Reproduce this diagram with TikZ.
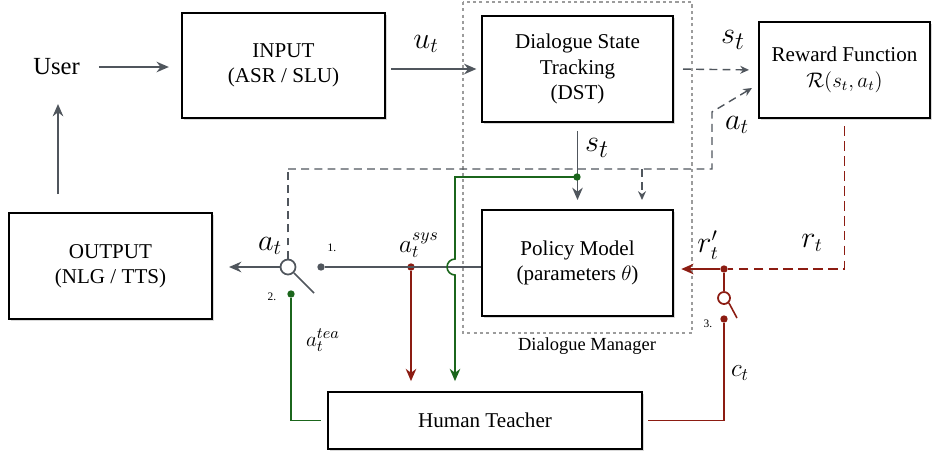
\documentclass[tikz,border=0pt]{standalone}
\usepackage{fontspec}
\setmainfont{Liberation Serif}
\usetikzlibrary{shadows,arrows.meta}

\definecolor{linegray}{HTML}{50565D}
\definecolor{dotgray}{HTML}{9C9C9C}
\definecolor{teachred}{HTML}{8C1C12}
\definecolor{teachgreen}{HTML}{1B661C}

\newcommand{\diagfont}{\fontsize{12}{14.5}\selectfont}
\newcommand{\labsize}[1]{\fontsize{#1}{#1}\selectfont}

\begin{document}
\begin{tikzpicture}[x=0.02cm,y=-0.02cm,>={Stealth[length=7pt,width=6pt]},
  main node/.style={rectangle,draw,line width=1.4pt,fill=white,align=center,font=\diagfont,
    drop shadow={shadow xshift=1.4pt,shadow yshift=-1.4pt,opacity=0.3}},
  flow/.style={->,draw=linegray,line width=1.1pt},
  feed/.style={draw=linegray,line width=0.8pt,dash pattern=on 4.5pt off 3pt,
    >={Stealth[length=5pt,width=4.5pt]}},
  redline/.style={draw=teachred,line width=0.9pt},
  reddash/.style={draw=teachred,line width=0.9pt,dash pattern=on 5.5pt off 3pt},
  greenline/.style={draw=teachgreen,line width=0.9pt},
  switch/.style={circle,draw,line width=1pt,fill=white,inner sep=0pt,minimum size=0.3cm},
  dot/.style={circle,inner sep=0pt,minimum size=4.2pt},
  lab/.style={inner sep=0pt},
  num/.style={font=\fontsize{6.5}{7}\selectfont,inner sep=0pt}]

  \useasboundingbox (0,0) rectangle (936,454);

  % dialogue manager frame
  \draw[dotgray,line width=0.9pt,dash pattern=on 1.8pt off 1.8pt] (463,2) rectangle (692,333);
  \node[font=\fontsize{10.5}{12}\selectfont] (dm) at (587,346) {Dialogue Manager};

  \node[] (user) at (56.5,67) {\fontsize{14}{17}\selectfont User};
  \node[main node,minimum width=4.06cm,minimum height=2.1cm] (input) at (283.5,65.5) {INPUT\\(ASR / SLU)};
  \node[main node,minimum width=3.82cm,minimum height=2.12cm] (dst) at (577.5,69) {Dialogue State\\Tracking\\(DST)};
  \node[main node,minimum width=3.82cm,minimum height=2.12cm] (policy) at (577.5,263) {Policy Model\\(parameters $\theta$)};
  \node[main node,minimum width=3.42cm,minimum height=1.92cm] (reward) at (844.5,70) {Reward Function\\$\mathcal{R}(s_t,a_t)$};
  \node[main node,minimum width=4.06cm,minimum height=2.12cm] (output) at (110.5,266) {OUTPUT\\(NLG / TTS)};
  \node[main node,minimum width=6.28cm,minimum height=1.14cm] (teacher) at (485,420.5) {Human Teacher};

  % switches and joints
  \coordinate (ubot) at (58,104);
  \coordinate (atl) at (288,169);
  \coordinate (atr) at (712,169);
  \coordinate (atup) at (712,112);
  \coordinate (rin) at (752,88);
  \coordinate (atb) at (642,169);
  \coordinate (stj) at (577,177);
  \coordinate (hop) at (455,177);
  \coordinate (hoptop) at (455,259);
  \coordinate (lev1) at (314,293);
  \coordinate (lev3) at (737,318);

  \node[dot,fill=linegray] (p1) at (321,267) {};
  \node[dot,fill=teachgreen] (p2) at (291,294) {};
  \node[dot,fill=teachred] (asys) at (411,267) {};
  \node[dot,fill=teachred] (rj) at (724,269) {};
  \node[dot,fill=teachred] (p3) at (724,319) {};

  % main flow
  \draw[flow,shorten <=7.4pt,shorten >=6.8pt] (user.east) -- (user.east -| input.west);
  \draw[flow,shorten <=3pt,shorten >=2.5pt] (input.east |- dst.west) -- (dst.west);
  \draw[flow,shorten <=4.5pt,shorten >=5pt] (dst.south) -- (policy.north);
  \draw[flow,shorten <=10pt] (ubot |- output.north) -- (ubot);
  \draw[linegray,line width=1.1pt] (p1) -- (p1 -| policy.west);

  % dashed feedback
  \draw[feed,->,shorten <=5pt,shorten >=5pt] (dst.east) -- (reward.west);
  \draw[feed,->] (atl) -- (atr) -- (atup) -- (rin);
  \draw[feed,->,shorten >=5pt] (atb) -- (atb |- policy.north);

  % teacher loop
  \draw[redline,->,shorten >=5.5pt] (asys) -- (asys |- teacher.north);
  \draw[greenline,->,shorten >=5.5pt] (stj) -- (hop) -- (hoptop)
    arc[start angle=90,end angle=270,radius=0.16cm] -- (hop |- teacher.north);
  \node[dot,fill=teachgreen] (stdot) at (stj) {};
  \draw[greenline,shorten >=3.5pt] (p2) -- (p2 |- teacher.west) -- (teacher.west);
  \draw[reddash,shorten <=4pt] (reward.south) -- (reward.south |- rj) -- (rj);
  \draw[redline,->,line width=1.1pt,shorten >=4pt] (rj) -- (rj -| policy.east);
  \node[switch,draw=teachred,minimum size=0.24cm] (sw3) at (724,298) {};
  \draw[redline] (rj) -- (sw3.north);
  \draw[redline] (sw3.south east) -- (lev3);
  \draw[redline,shorten >=3pt] (p3) -- (p3 |- teacher.east) -- (teacher.east);

  % output switch
  \node[switch,draw=linegray] (sw) at (288,267) {};
  \draw[feed] (sw.north) -- (atl);
  \draw[flow,shorten >=9pt] (sw.west) -- (sw.west -| output.east);
  \draw[linegray,line width=1pt] (sw.south east) -- (lev1);

  % labels
  \node[lab,font=\labsize{18.5}] (ut) at (426,44) {$u_t$};
  \node[lab,font=\labsize{19}] (st1) at (733,40) {$s_t$};
  \node[lab,font=\labsize{17}] (at1) at (737,125) {$a_t$};
  \node[lab,font=\labsize{19}] (st2) at (597,148) {$s_t$};
  \node[lab,font=\labsize{16}] (rt) at (812,243) {$r_t$};
  \node[lab,font=\labsize{16}] (rpt) at (708,245) {$r'_t$};
  \node[lab,font=\labsize{14}] (ct) at (740,373) {$c_t$};
  \node[lab,font=\labsize{17}] (at2) at (270,246) {$a_t$};
  \node[lab,font=\labsize{14}] (asysl) at (419,245) {$a_t^{sys}$};
  \node[lab,font=\labsize{13}] (ateal) at (323,340) {$a_t^{tea}$};
  \node[num] (n1) at (332,248) {1.};
  \node[num] (n2) at (272,297) {2.};
  \node[num] (n3) at (708,324) {3.};
\end{tikzpicture}
\end{document}
